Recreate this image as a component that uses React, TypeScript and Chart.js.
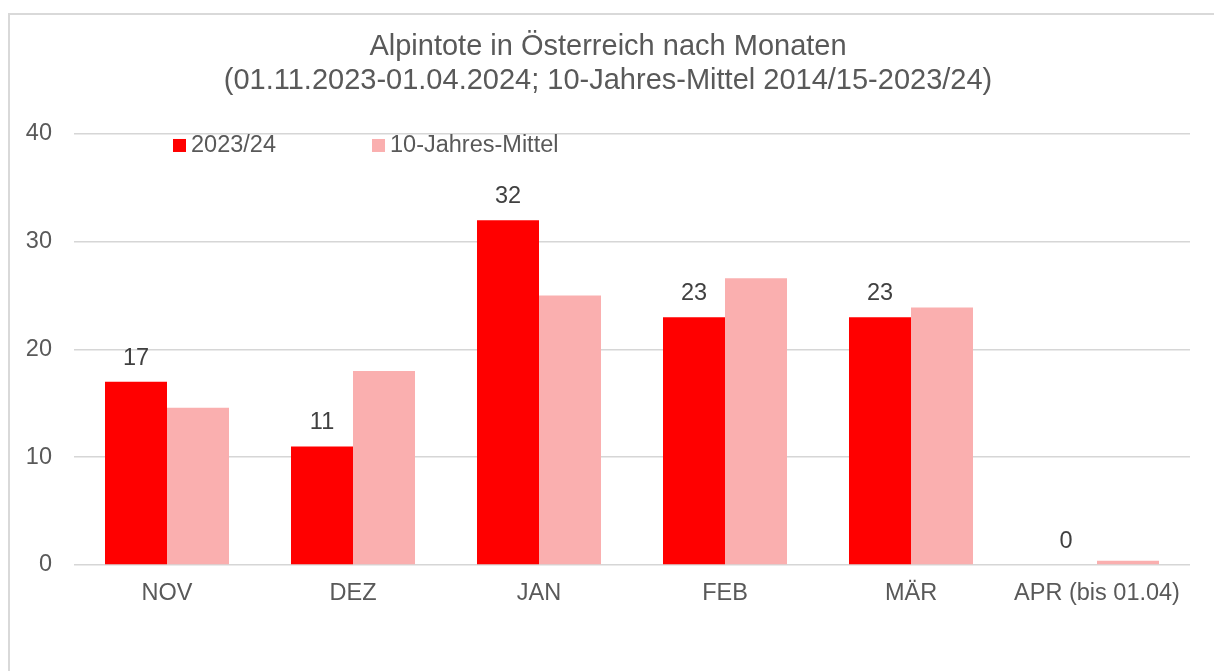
import React, { useEffect, useRef } from "react";
import { Chart, registerables } from "chart.js";

Chart.register(...registerables);

const TITLE_LINES = [
  "Alpintote in Österreich nach Monaten",
  "(01.11.2023-01.04.2024; 10-Jahres-Mittel 2014/15-2023/24)",
];
const CATEGORIES = ["NOV", "DEZ", "JAN", "FEB", "MÄR", "APR (bis 01.04)"];
const SERIES_NAMES = ["2023/24", "10-Jahres-Mittel"];
const SEASON_2023_24 = [17, 11, 32, 23, 23, 0];
const TEN_YEAR_MEAN = [14.6, 18.0, 25.0, 26.6, 23.9, 0.4];
const Y_TICKS = [0, 10, 20, 30, 40];

const FONT = "'Liberation Sans', Arial, Helvetica, sans-serif";
const RED = "#FF0000";
const PINK = "#FAAFAF";

const dataLabelPlugin = {
  id: "dataLabels",
  afterDatasetsDraw(chart: any) {
    const ctx = chart.ctx;
    const meta = chart.getDatasetMeta(0);
    const ds = chart.data.datasets[0];
    ctx.save();
    ctx.font = `23.5px ${FONT}`;
    ctx.fillStyle = "#404040";
    ctx.textAlign = "center";
    ctx.textBaseline = "alphabetic";
    meta.data.forEach((bar: any, i: number) => {
      ctx.fillText(String(ds.data[i]), bar.x, bar.y - 17);
    });
    ctx.restore();
  },
};

const insideLegendPlugin = {
  id: "insideLegend",
  afterDraw(chart: any) {
    const ctx = chart.ctx;
    const area = chart.chartArea;
    const offsets = [99, 298];
    ctx.save();
    ctx.font = `23.5px ${FONT}`;
    ctx.textBaseline = "middle";
    ctx.textAlign = "left";
    chart.data.datasets.forEach((ds: any, i: number) => {
      const x = area.left + offsets[i];
      const y = area.top + 5;
      ctx.fillStyle = ds.backgroundColor;
      ctx.fillRect(x, y, 13, 13);
      ctx.fillStyle = "#595959";
      ctx.fillText(ds.label, x + 18, y + 7);
    });
    ctx.restore();
  },
};

export default function App() {
  const ref = useRef<HTMLCanvasElement | null>(null);

  useEffect(() => {
    if (!ref.current) return;
    const chart = new Chart(ref.current, {
      type: "bar",
      data: {
        labels: CATEGORIES,
        datasets: [
          {
            label: SERIES_NAMES[0],
            data: SEASON_2023_24,
            backgroundColor: RED,
            categoryPercentage: 0.6667,
            barPercentage: 1,
          },
          {
            label: SERIES_NAMES[1],
            data: TEN_YEAR_MEAN,
            backgroundColor: PINK,
            categoryPercentage: 0.6667,
            barPercentage: 1,
          },
        ],
      },
      options: {
        responsive: false,
        animation: false,
        events: [],
        layout: { padding: 0 },
        plugins: {
          legend: { display: false },
          tooltip: { enabled: false },
          title: {
            display: true,
            text: TITLE_LINES,
            color: "#595959",
            font: { family: FONT, size: 29, weight: "normal", lineHeight: 1.16 },
            padding: { top: 15.5, bottom: 36.2 },
          },
        },
        scales: {
          x: {
            grid: { display: false, drawTicks: false },
            border: { display: false },
            ticks: {
              color: "#595959",
              font: { family: FONT, size: 23.5 },
              padding: 14,
              maxRotation: 0,
              autoSkip: false,
            },
            afterFit: (s: any) => {
              s.height = 106;
            },
          },
          y: {
            min: 0,
            max: 40,
            afterBuildTicks: (s: any) => {
              s.ticks = Y_TICKS.map((v) => ({ value: v }));
            },
            grid: { color: "#d6d6d6", lineWidth: 1.5, drawTicks: false },
            border: { display: false },
            ticks: {
              color: "#595959",
              font: { family: FONT, size: 23.5 },
              padding: 22,
            },
            afterFit: (s: any) => {
              s.width = 64;
            },
          },
          y2: {
            position: "right",
            display: true,
            min: 0,
            max: 40,
            grid: { display: false, drawTicks: false },
            border: { display: false },
            ticks: { display: false },
            afterFit: (s: any) => {
              s.width = 16;
            },
          },
        },
      },
      plugins: [dataLabelPlugin, insideLegendPlugin],
    } as any);
    return () => chart.destroy();
  }, []);

  return (
    <div
      style={{
        position: "fixed",
        left: 0,
        top: 0,
        width: "100vw",
        height: "100vh",
        overflow: "hidden",
        background: "#fff",
      }}
    >
      <div
        style={{
          position: "absolute",
          left: 8,
          top: 13,
          width: 1240,
          height: 700,
          border: "2px solid #d9d9d9",
        }}
      >
        <canvas
          ref={ref}
          width={1196}
          height={656}
          style={{ display: "block", width: 1196, height: 656 }}
        />
      </div>
    </div>
  );
}
